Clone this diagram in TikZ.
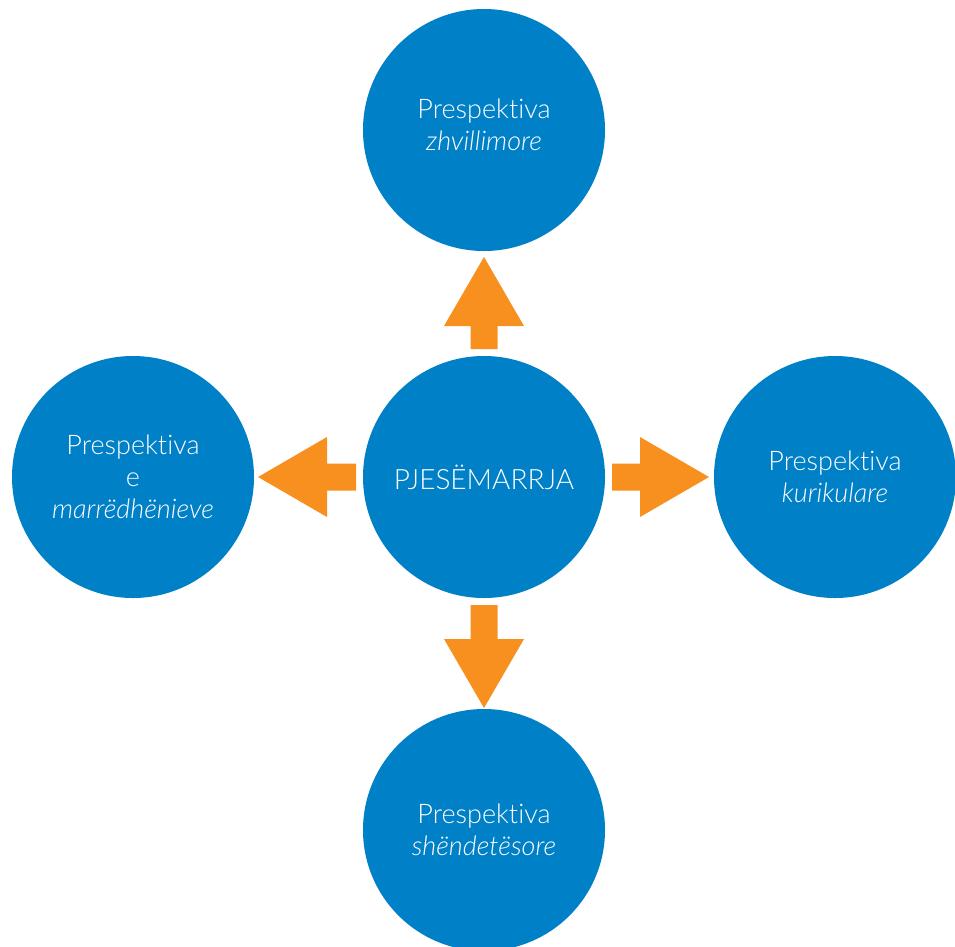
\documentclass[tikz,border=0pt]{standalone}
\usepackage{fontspec}
\setmainfont{Lato}[UprightFont=* Light,ItalicFont=* Light Italic,Ligatures=NoCommon]
\definecolor{circblue}{RGB}{0,128,198}
\definecolor{arroworange}{RGB}{247,144,30}
% block arrow: #1 node, #2 direction, #3 shaft length
\newcommand{\blockarrow}[3]{%
\fill[arroworange,shift={(#1.center)},rotate=#2] (128,-13.5) -- (128+#3,-13.5) -- (128+#3,-40) -- (128+#3+69,0)
  -- (128+#3,40) -- (128+#3,13.5) -- (128,13.5) -- cycle;}
\begin{document}
\begin{tikzpicture}[x=1pt,y=1pt,
persp/.style={circle,fill=circblue,minimum size=242pt,inner sep=0pt,text=white,align=center,
  font=\fontsize{27}{32}\selectfont}]
\useasboundingbox (0,0) rectangle (955,-946);
\node[persp,font=\fontsize{28}{32}\selectfont] (core) at (484,-477) {PJESËMARRJA};
\node[persp] (zhvill) at (484,-130) {Prespektiva\\\textit{zhvillimore}\\[-22pt]};
\node[persp] (marr) at (133,-477) {Prespektiva\\e\\\textit{marrëdhënieve}};
\node[persp] (kurik) at (835,-477) {Prespektiva\\\textit{kurikulare}};
\node[persp] (shend) at (484,-830) {Prespektiva\\\textit{shëndetësore}};
\blockarrow{core}{90}{23}
\blockarrow{core}{-90}{34}
\blockarrow{core}{180}{29}
\blockarrow{core}{0}{28}
\end{tikzpicture}
\end{document}
